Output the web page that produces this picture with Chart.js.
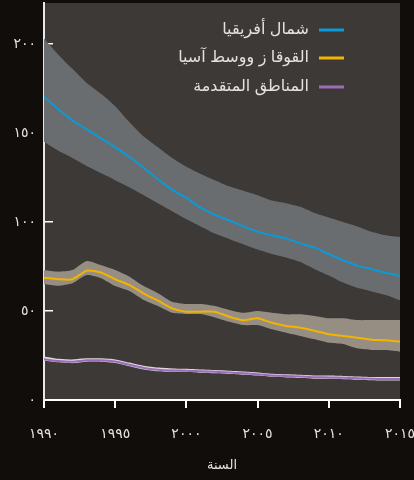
<!DOCTYPE html>
<html>
<head>
<meta charset="utf-8">
<script src="https://cdn.jsdelivr.net/npm/chart.js@4.4.1/dist/chart.umd.min.js"></script>
<style>
html,body{margin:0;padding:0;background:#100d0a;}
#wrap{width:414px;height:480px;position:relative;}
</style>
</head>
<body>
<div id="wrap"><canvas id="c"></canvas></div>
<script>
// ---- data ----
const years = [1990,1991,1992,1993,1994,1995,1996,1997,1998,1999,2000,2001,2002,2003,2004,2005,2006,2007,2008,2009,2010,2011,2012,2013,2014,2015];

const seriesNames = ['شمال أفريقيا', 'القوقا ز ووسط آسيا', 'المناطق المتقدمة'];

const northAfrica      = [170.4,163.5,157,152,147,142,136.5,130.5,124,118,113.5,108,104,101,97.5,94.6,92.5,90.8,88,85.6,82,78.5,75.5,73.5,71.5,69.7];
const northAfricaUpper = [203,194,186,178,172,165,156,148,142,136,131,127,123.5,120,117.5,115,112,110.5,108.5,105,102.5,100,97.5,94.5,92.5,91.5];
const northAfricaLower = [145,140,136,131.5,127.5,123.5,119.5,115,110.5,106,101.5,97.5,93.5,90.5,87.5,84.5,82,80,77.5,73.5,70,66,63,61,59,56];

const caucasus      = [68.7,67.8,67.8,72.6,71.6,67.8,64.6,59.8,55.8,51.5,49.6,49.6,49.6,46.8,44.8,45.9,43.4,41.6,40.6,38.9,36.9,36.0,35.0,33.9,33.6,32.8];
const caucasusUpper = [73,72.1,73,78.1,75.8,73,69.3,64,60,55.2,53.9,53.9,52.8,50.6,49,50,49,48.1,48.1,47.2,45.9,45.9,44.9,44.9,44.9,44.9];
const caucasusLower = [65,64.2,65.6,70.2,68.4,64,61.2,56.2,52.8,49,48.3,48.3,46.4,44,42.1,42.1,39.7,37.8,36,34.1,32.2,31.5,29,28.1,28.1,27.1];

const developed      = [22.9,21.9,21.5,22.3,22.3,21.6,19.8,18,17,16.6,16.5,16.1,15.8,15.4,15,14.5,13.8,13.5,13.2,12.8,12.7,12.5,12.2,11.9,11.8,11.8];
const developedUpper = [24.5,23.2,22.8,23.4,23.4,22.8,21.0,19.2,18.2,17.7,17.5,17.1,16.8,16.4,16.0,15.5,14.8,14.5,14.2,13.8,13.7,13.5,13.2,12.9,12.9,12.9];
const developedLower = [22.2,21.2,20.7,21.5,21.5,20.8,19.0,17.2,16.2,15.8,15.7,15.3,15.0,14.6,14.2,13.7,13.0,12.7,12.4,12.0,11.9,11.7,11.4,11.1,10.9,10.9];

const yTickValues = [0,50,100,150,200];
const yTickLabels = ['٠','٥٠','١٠٠','١٥٠','٢٠٠'];
const xTickValues = [1990,1995,2000,2005,2010,2015];
const xTickLabels = ['١٩٩٠','١٩٩٥','٢٠٠٠','٢٠٠٥','٢٠١٠','٢٠١٥'];
const xTitle = 'السنة';

// ---- chart ----
const FONT = 'Arial, "Liberation Sans", "DejaVu Sans", sans-serif';
const TXT = '#e4e2df';
const pts = arr => arr.map((v,i) => ({x: years[i], y: v}));

function line(label, arr, color){
  return {label, data: pts(arr), borderColor: color, backgroundColor: color, borderWidth: 2,
          pointRadius: 0, fill: false, tension: 0.2};
}
function band(arr, color, fill){
  return {label: '', data: pts(arr), borderWidth: 0, borderColor: 'rgba(0,0,0,0)', backgroundColor: color,
          pointRadius: 0, fill: fill, tension: 0.2};
}

const bgPlugin = {
  id: 'bg',
  beforeDraw(chart){
    const {ctx, chartArea: a} = chart;
    ctx.save();
    ctx.fillStyle = '#100d0a';
    ctx.fillRect(0,0,chart.width,chart.height);
    ctx.fillStyle = '#3d3936';
    ctx.fillRect(a.left, a.top, a.right - a.left, a.bottom - a.top);
    ctx.restore();
  }
};

const legendPlugin = {
  id: 'insideLegend',
  afterDraw(chart){
    const ctx = chart.ctx;
    const rows = [30, 58, 87];
    ctx.save();
    ctx.font = '16px ' + FONT;
    ctx.textAlign = 'right';
    ctx.textBaseline = 'middle';
    ctx.direction = 'rtl';
    chart.data.datasets.slice(0,3).forEach((ds, i) => {
      ctx.fillStyle = ds.borderColor;
      ctx.fillRect(319, rows[i] - 1.5, 25, 3);
      ctx.fillStyle = TXT;
      ctx.fillText(ds.label, 309, rows[i]);
    });
    ctx.restore();
  }
};

new Chart(document.getElementById('c'), {
  type: 'line',
  data: {
    datasets: [
      line(seriesNames[0], northAfrica, '#0b9ad8'),
      line(seriesNames[1], caucasus, '#f2b400'),
      line(seriesNames[2], developed, '#9d6cb8'),
      band(northAfricaUpper, '#6a6d70', '+1'),
      band(northAfricaLower, 'rgba(0,0,0,0)', false),
      band(caucasusUpper, '#968e82', '+1'),
      band(caucasusLower, 'rgba(0,0,0,0)', false),
      band(developedUpper, '#dcd8e0', '+1'),
      band(developedLower, 'rgba(0,0,0,0)', false)
    ]
  },
  options: {
    responsive: true,
    maintainAspectRatio: false,
    animation: false,
    layout: {padding: {top: 3, right: 14, left: 0, bottom: 0}},
    plugins: {legend: {display: false}, tooltip: {enabled: false}},
    scales: {
      x: {
        type: 'linear', min: 1990, max: 2015,
        afterBuildTicks: s => { s.ticks = xTickValues.map(v => ({value: v})); },
        afterFit: s => { s.height = 80; s.paddingLeft = 0; s.paddingRight = 0; },
        grid: {drawOnChartArea: false, drawTicks: true, tickLength: 8, color: '#ffffff', lineWidth: 2},
        border: {display: true, color: '#ffffff', width: 2},
        ticks: {autoSkip: false, maxRotation: 0, color: TXT, font: {size: 14, family: FONT}, padding: 18,
                callback: v => xTickLabels[xTickValues.indexOf(v)]},
        title: {display: true, text: xTitle, color: TXT, font: {size: 13, family: FONT}, padding: {top: 0, bottom: 7}}
      },
      y: {
        min: 0, max: 223,
        afterBuildTicks: s => { s.ticks = yTickValues.map(v => ({value: v})); },
        afterFit: s => { s.width = 44; s.paddingTop = 0; s.paddingBottom = 0; },
        grid: {drawOnChartArea: false, drawTicks: true, tickLength: -9, color: '#ffffff', lineWidth: 1.5},
        border: {display: true, color: '#e8e8e8', width: 2},
        ticks: {color: TXT, font: {size: 14, family: FONT}, padding: 17,
                callback: v => yTickLabels[yTickValues.indexOf(v)]}
      }
    }
  },
  plugins: [bgPlugin, legendPlugin]
});
</script>
</body>
</html>
